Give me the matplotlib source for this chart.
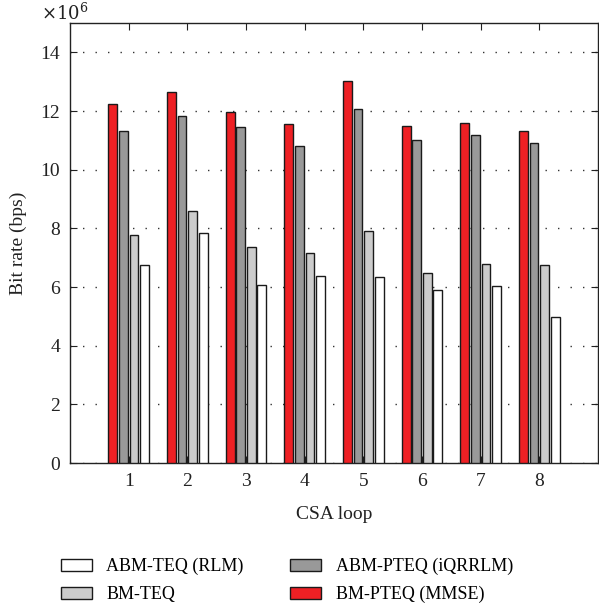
import matplotlib
matplotlib.use("Agg")
import matplotlib.pyplot as plt
import numpy as np
from matplotlib.patches import Patch

plt.rcParams['font.family'] = ['Liberation Serif', 'DejaVu Serif']
plt.rcParams['mathtext.fontset'] = 'dejavuserif'

loops = [1, 2, 3, 4, 5, 6, 7, 8]
bm_pteq = [12.25, 12.66, 11.95, 11.55, 13.03, 11.48, 11.59, 11.33]
abm_pteq = [11.31, 11.82, 11.47, 10.80, 12.07, 11.02, 11.17, 10.90]
bm_teq = [7.76, 8.60, 7.38, 7.17, 7.91, 6.47, 6.80, 6.75]
abm_teq = [6.76, 7.83, 6.07, 6.39, 6.34, 5.90, 6.05, 4.99]

series = [
    (bm_pteq, '#ee2024', 'BM-PTEQ (MMSE)'),
    (abm_pteq, '#999999', 'ABM-PTEQ (iQRRLM)'),
    (bm_teq, '#cccccc', 'BM-TEQ'),
    (abm_teq, '#ffffff', 'ABM-TEQ (RLM)'),
]

fig = plt.figure(figsize=(5.99, 6.11), dpi=100)
ax = fig.add_axes([70/599, 1-463/611, 528/599, 440/611])

x = np.array(loops, dtype=float)
width = 0.15
offsets = [-0.27, -0.09, 0.09, 0.27]
for (vals, col, lab), off in zip(series, offsets):
    ax.bar(x + off, vals, width=width, color=col, edgecolor='#1a1a1a', linewidth=1.0, zorder=3)

ax.set_xlim(0, 9)
ax.set_ylim(0, 15)
ax.set_xticks(loops)
ax.set_yticks([0, 2, 4, 6, 8, 10, 12, 14])
ax.yaxis.grid(True, linestyle=(0, (1, 8)), color='#333333', linewidth=1.0)
ax.set_axisbelow(True)
ax.tick_params(axis='both', direction='in', labelsize=14, top=True, right=True, length=5,
               colors='#222222', pad=7)
for s in ax.spines.values():
    s.set_linewidth(1.0)
    s.set_color('#222222')
ax.set_xlabel('CSA loop', fontsize=14, color='#222222', labelpad=12)
ax.set_ylabel('Bit rate (bps)', fontsize=14, color='#222222', labelpad=10)
ax.text(-0.055, 1.007, r'$\times10^{6}$', transform=ax.transAxes, fontsize=13,
        ha='left', va='baseline', color='#222222')

handles = [Patch(facecolor='#ffffff', edgecolor='#1a1a1a', label='ABM-TEQ (RLM)'),
           Patch(facecolor='#cccccc', edgecolor='#1a1a1a', label='BM-TEQ'),
           Patch(facecolor='#999999', edgecolor='#1a1a1a', label='ABM-PTEQ (iQRRLM)'),
           Patch(facecolor='#ee2024', edgecolor='#1a1a1a', label='BM-PTEQ (MMSE)')]
fig.legend(handles=handles, ncol=2, loc='upper left', bbox_to_anchor=(61/599, 1-558/611),
           frameon=False, fontsize=13, handlelength=1.7, handleheight=0.6,
           columnspacing=2.6, labelspacing=0.6, handletextpad=0.8,
           borderpad=0, borderaxespad=0)

fig.savefig('out.png', dpi=100)
